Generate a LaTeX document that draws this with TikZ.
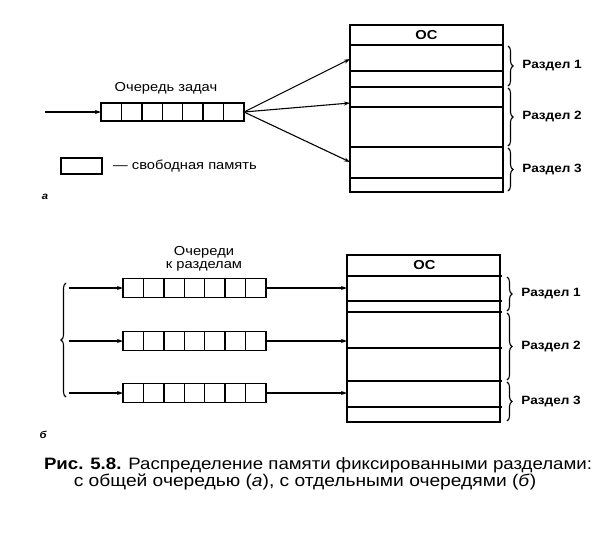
\documentclass[tikz,border=0pt]{standalone}
\usepackage{fontspec}
\setmainfont[FakeStretch=1.13]{Liberation Sans}
\usetikzlibrary{positioning, arrows.meta, decorations.pathreplacing, calc}

\begin{document}
\begin{tikzpicture}[
  x=1pt, y=-1pt, font=\fontsize{13}{15}\selectfont, >=Stealth,
  cell/.style ={draw, line width=1.4pt, minimum width=20.43pt, minimum height=18pt, inner sep=0pt, outer sep=0pt},
  mem/.style  ={draw, line width=1.6pt, minimum width=153pt, inner sep=0pt, outer sep=0pt, anchor=north west},
  row/.style  ={line width=1.6pt},
  part/.style ={decorate, decoration={brace, amplitude=5pt}, line width=1.1pt},
  lbl/.style  ={font=\fontsize{12}{14}\selectfont\bfseries, right=10.5pt},
  flow/.style ={-{Stealth[length=6pt, width=4pt]}, line width=1.1pt},
  tag/.style  ={font=\fontsize{10}{12}\selectfont\bfseries\itshape},
]
\useasboundingbox (0,0) rectangle (600,536);

% ---------- (a) common queue ----------
\node[mem, minimum height=167pt] (memA) at (350,25) {};
\foreach \y in {45,71,87,107,147,178}
  \draw[row] (350,\y) -- (503,\y);
\node (osA) at (426.5,35) {\bfseries ОС};
\draw[part] (508,46) -- (508,86)   node[midway, lbl] {Раздел 1};
\draw[part] (508,88) -- (508,146)  node[midway, lbl] {Раздел 2};
\draw[part] (508,148) -- (508,191) node[midway, lbl] {Раздел 3};

\foreach \i in {1,...,7}
  \node[cell] (qa\i) at ({101+20.43*(\i-0.5)},112) {};
\node (qaname) at (166,88) {Очередь задач};
\coordinate (inA) at (45,112);
\draw[flow] (inA) -- (qa1.west);

\coordinate (pa1) at (350,59);
\coordinate (pa2) at (350,103);
\coordinate (pa3) at (350,162);
\foreach \p in {pa1,pa2,pa3}
  \draw[flow] (qa7.east) -- (\p);

\node[cell, minimum width=41pt, minimum height=16pt] (free) at (81.5,166) {};
\node[right=8pt of free, inner sep=3pt] (freetext) {— свободная память};
\node[tag] (tagA) at (45,197) {а};

% ---------- (b) separate queues ----------
\node[mem, minimum height=167pt] (memB) at (347,255) {};
\foreach \y in {276,301,312,348,381,407}
  \draw[row] (347,\y) -- (502,\y);
\node (osB) at (424.5,265.5) {\bfseries ОС};
\draw[part] (507,277) -- (507,311) node[midway, lbl] {Раздел 1};
\draw[part] (507,313) -- (507,380) node[midway, lbl] {Раздел 2};
\draw[part] (507,382) -- (507,421) node[midway, lbl] {Раздел 3};

\foreach \r/\y in {1/288, 2/341, 3/393} {
  \foreach \i in {1,...,7}
    \node[cell, minimum height=19pt] (qb\r\i) at ({123+20.43*(\i-0.5)},\y) {};
  \coordinate (inB\r) at (69,\y);
  \coordinate (pb\r) at (347,\y);
  \draw[flow] (inB\r) -- (qb\r1.west);
  \draw[flow] (qb\r7.east) -- (pb\r);
}
\draw[part] (66,397) -- (66,283);
\node[align=center, font=\fontsize{13}{13}\selectfont] (qbname) at (204,259) {Очереди\\к разделам};
\node[tag] (tagB) at (43,435) {б};

% ---------- caption ----------
\node[font=\fontsize{16.5}{18}\selectfont, inner sep=0pt] (cap1) at (318,465)
  {\textbf{Рис. 5.8.} Распределение памяти фиксированными разделами:};
\node[font=\fontsize{17}{18}\selectfont, inner sep=0pt, below=1pt of cap1.south, anchor=north, xshift=-13pt] (cap2)
  {с общей очередью (\textit{а}), с отдельными очередями (\textit{б})};
\end{tikzpicture}
\end{document}
